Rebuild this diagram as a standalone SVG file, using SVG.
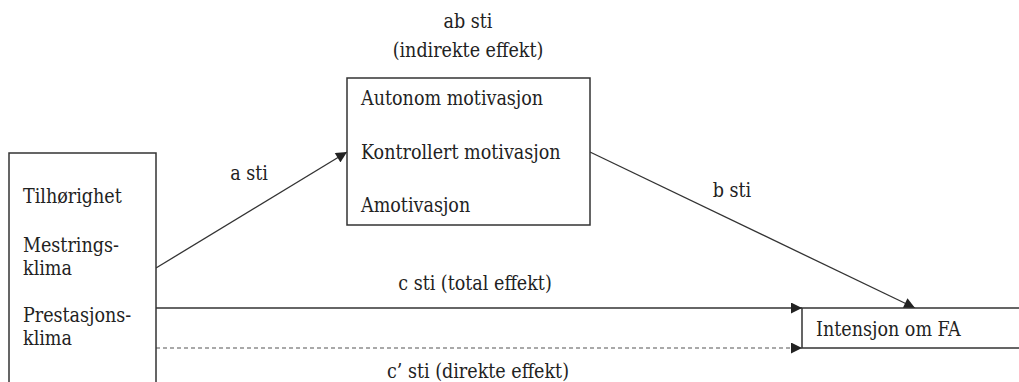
<svg xmlns="http://www.w3.org/2000/svg" width="1019" height="382" viewBox="0 0 1019 382" font-family="DejaVu Serif Condensed, DejaVu Serif, serif" font-stretch="condensed" font-size="19.5">
<style>
text{fill:#222}
.box{fill:#fff;stroke:#333;stroke-width:1.5}
.ln{stroke:#333;stroke-width:1.3;fill:none}
.dash{stroke:#555;stroke-width:1.2;stroke-dasharray:4 3;fill:none}
</style>
<defs>
<marker id="ah" viewBox="0 0 10 10" refX="10" refY="5" markerWidth="12" markerHeight="11" markerUnits="userSpaceOnUse" orient="auto">
<path d="M0,0 L10,5 L0,10 Z" fill="#222"/>
</marker>
</defs>
<rect width="1019" height="382" fill="#fff"/>
<g id="connectors">
<line class="ln" x1="156" y1="268" x2="347" y2="152" marker-end="url(#ah)"/>
<line class="ln" x1="590" y1="152" x2="915" y2="308" marker-end="url(#ah)"/>
<line class="ln" x1="156" y1="308" x2="802" y2="308" marker-end="url(#ah)"/>
<line class="dash" x1="156" y1="348" x2="802" y2="348" marker-end="url(#ah)"/>
<text x="249" y="180" text-anchor="middle">a sti</text>
<text x="732" y="197" text-anchor="middle">b sti</text>
<text x="475" y="290" text-anchor="middle">c sti (total effekt)</text>
<text x="478" y="378" text-anchor="middle">c’ sti (direkte effekt)</text>
<text x="468" y="28" text-anchor="middle">ab sti</text>
<text x="468" y="57" text-anchor="middle">(indirekte effekt)</text>
</g>
<g id="node-predictors">
<rect class="box" x="9" y="153" width="147" height="240"/>
<text x="23" y="203">Tilhørighet</text>
<text x="23" y="252">Mestrings-</text>
<text x="23" y="275">klima</text>
<text x="23" y="322">Prestasjons-</text>
<text x="23" y="345">klima</text>
</g>
<g id="node-motivation">
<rect class="box" x="347" y="78" width="243" height="147"/>
<text x="361" y="105">Autonom motivasjon</text>
<text x="361" y="159">Kontrollert motivasjon</text>
<text x="361" y="212">Amotivasjon</text>
</g>
<g id="node-intention">
<rect class="box" x="802" y="308" width="230" height="40"/>
<text x="816" y="336">Intensjon om FA</text>
</g>
</svg>
